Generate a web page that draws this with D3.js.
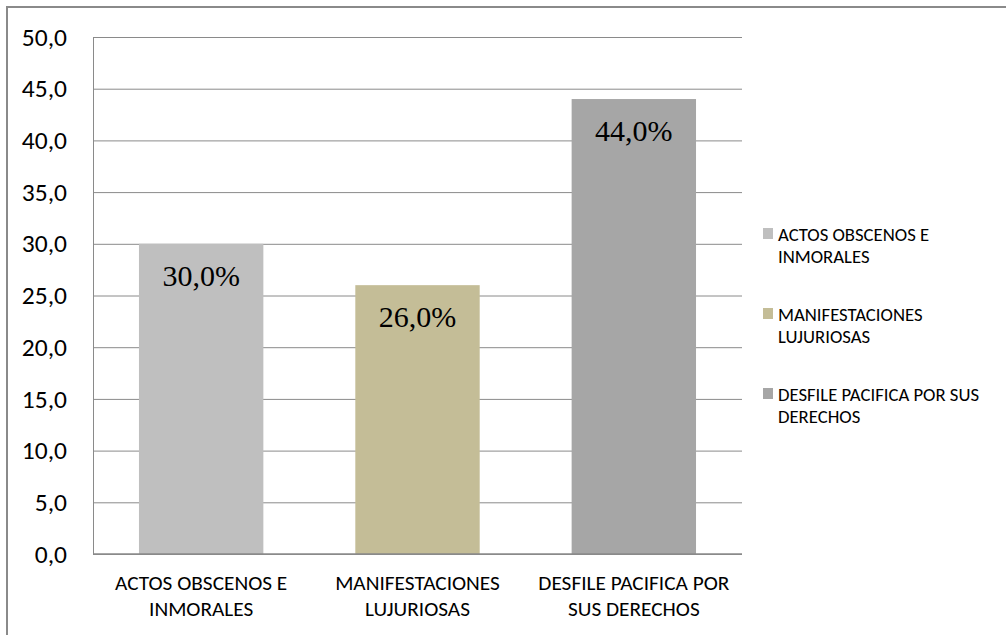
<!DOCTYPE html>
<html>
<head>
<meta charset="utf-8">
<script src="https://cdn.jsdelivr.net/npm/d3@7"></script>
<style>
  body { margin: 0; background: #fff; }
  svg text { fill: #000; }
</style>
</head>
<body>
<div id="chart"></div>
<script>
// data
var categories = ['ACTOS OBSCENOS E INMORALES', 'MANIFESTACIONES LUJURIOSAS', 'DESFILE PACIFICA POR SUS DERECHOS'];
var values = [30.0, 26.0, 44.0];
var colors = ['#bfbfbf', '#c4bd97', '#a6a6a6'];
var axisLines = [['ACTOS OBSCENOS E', 'INMORALES'], ['MANIFESTACIONES', 'LUJURIOSAS'], ['DESFILE PACIFICA POR', 'SUS DERECHOS']];
var legendLines = [['ACTOS OBSCENOS E', 'INMORALES'], ['MANIFESTACIONES', 'LUJURIOSAS'], ['DESFILE PACIFICA POR SUS', 'DERECHOS']];
var yTicks = [0, 5, 10, 15, 20, 25, 30, 35, 40, 45, 50];

var W = 1006, H = 635;
var margin = {left: 93, top: 37, right: 264, bottom: 81};
var sansFont = 'Carlito, Calibri, Lato, sans-serif';
var gridColor = '#8a8a8a';

var svg = d3.select('#chart').append('svg')
    .attr('width', W).attr('height', H);

// outer frame (top and left edges visible)
svg.append('path')
    .attr('d', 'M7,' + H + 'V7H' + W)
    .attr('fill', 'none').attr('stroke', gridColor).attr('stroke-width', 2);

var x = d3.scaleBand().domain(categories)
    .range([margin.left, W - margin.right])
    .paddingInner(0.425).paddingOuter(0.2125);
var y = d3.scaleLinear().domain([0, 50]).range([H - margin.bottom, margin.top]);

var fmt = function(v) { return d3.format('.1f')(v).replace('.', ','); };

var yAxis = svg.append('g')
    .attr('transform', 'translate(' + margin.left + ',0)')
    .call(d3.axisLeft(y).tickValues(yTicks).tickFormat(fmt)
        .tickSize(-(W - margin.right - margin.left)).tickPadding(26));
yAxis.select('.domain').attr('stroke', gridColor);
yAxis.selectAll('.tick line').attr('stroke', gridColor).attr('stroke-width', 1);
yAxis.selectAll('.tick text')
    .attr('font-family', sansFont).attr('font-size', 25.5).attr('fill', '#000');

// bars
svg.append('g').selectAll('rect').data(values).enter()
    .append('rect')
    .attr('x', function(d, i) { return x(categories[i]); })
    .attr('y', function(d) { return y(d); })
    .attr('width', x.bandwidth())
    .attr('height', function(d) { return y(0) - y(d); })
    .attr('fill', function(d, i) { return colors[i]; });

// bottom axis line drawn over bars
svg.append('line')
    .attr('x1', margin.left).attr('x2', W - margin.right)
    .attr('y1', y(0)).attr('y2', y(0))
    .attr('stroke', gridColor).attr('stroke-width', 1.5);

// value labels
svg.append('g').selectAll('text').data(values).enter()
    .append('text')
    .attr('x', function(d, i) { return x(categories[i]) + x.bandwidth() / 2; })
    .attr('y', function(d) { return y(d) + 42; })
    .attr('text-anchor', 'middle')
    .attr('font-family', '"Liberation Serif", "Times New Roman", serif')
    .attr('font-size', 30)
    .text(function(d) { return fmt(d) + '%'; });

// category labels
var xl = svg.append('g').selectAll('text').data(categories).enter()
    .append('text')
    .attr('text-anchor', 'middle')
    .attr('font-family', sansFont).attr('font-size', 21.3);
xl.each(function(d, i) {
    var t = d3.select(this);
    axisLines[i].forEach(function(line, j) {
        t.append('tspan')
            .attr('x', x(d) + x.bandwidth() / 2)
            .attr('y', 590 + j * 26)
            .text(line);
    });
});

// legend
var lg = svg.append('g').selectAll('g').data(categories).enter()
    .append('g')
    .attr('transform', function(d, i) { return 'translate(763,' + (241 + i * 80) + ')'; });
lg.append('rect')
    .attr('x', 0).attr('y', -13).attr('width', 10).attr('height', 11)
    .attr('fill', function(d, i) { return colors[i]; });
lg.append('text')
    .attr('font-family', sansFont).attr('font-size', 18.7)
    .each(function(d, i) {
        var t = d3.select(this);
        legendLines[i].forEach(function(line, j) {
            t.append('tspan').attr('x', 15).attr('y', j * 21.5).text(line);
        });
    });
</script>
</body>
</html>
